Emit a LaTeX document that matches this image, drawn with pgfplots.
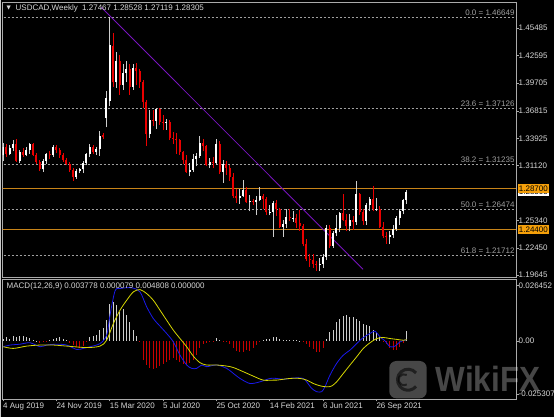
\documentclass[border=0pt]{standalone}
\usepackage{pgfplots}
\pgfplotsset{compat=1.18}
\usepackage{pgfplotstable}
\usepackage{fontspec}
\setmainfont{Liberation Sans}
\newfontfamily\dejavu{DejaVu Sans}
\definecolor{framec}{RGB}{170,170,170}
\definecolor{lgray}{RGB}{200,200,200}
\definecolor{txt}{RGB}{215,215,215}
\definecolor{bullc}{RGB}{255,255,255}
\definecolor{bullw}{RGB}{205,205,205}
\definecolor{bearc}{RGB}{235,0,0}
\definecolor{fibc}{RGB}{160,160,160}
\definecolor{orangel}{RGB}{200,132,25}
\definecolor{orangeb}{RGB}{245,160,10}
\definecolor{purp}{RGB}{120,20,190}
\definecolor{macdblue}{RGB}{25,25,235}
\definecolor{macdyel}{RGB}{215,215,0}
\definecolor{histw}{RGB}{205,205,205}
\definecolor{histr}{RGB}{200,0,0}

\pgfplotstableread{
w O H L C
0 1.3215 1.3345 1.3160 1.3300
2 1.3235 1.3320 1.3215 1.3290
3 1.3290 1.3380 1.3260 1.3330
5 1.3160 1.3270 1.3135 1.3250
7 1.3220 1.3300 1.3205 1.3270
8 1.3270 1.3350 1.3230 1.3330
12 1.3070 1.3180 1.3042 1.3160
13 1.3160 1.3240 1.3130 1.3230
15 1.3215 1.3320 1.3200 1.3300
22 1.2990 1.3075 1.2970 1.3050
23 1.3050 1.3085 1.3030 1.3070
24 1.3070 1.3160 1.3030 1.3140
25 1.3140 1.3245 1.3110 1.3230
26 1.3230 1.3330 1.3200 1.3305
28 1.3250 1.3300 1.3220 1.3280
29 1.3280 1.3467 1.3210 1.3420
31 1.3610 1.3890 1.3510 1.3820
32 1.3780 1.4667 1.3730 1.4370
34 1.3980 1.4300 1.3920 1.4200
36 1.3950 1.4170 1.3900 1.4080
37 1.4080 1.4200 1.3980 1.4120
39 1.3930 1.4175 1.3900 1.4130
44 1.3440 1.3690 1.3400 1.3590
46 1.3580 1.3715 1.3490 1.3700
49 1.3560 1.3600 1.3485 1.3565
56 1.3045 1.3140 1.2995 1.3060
57 1.3060 1.3230 1.3040 1.3180
58 1.3180 1.3240 1.3100 1.3210
59 1.3210 1.3420 1.3190 1.3350
62 1.3120 1.3190 1.3080 1.3150
64 1.3140 1.3390 1.3120 1.3330
66 1.3040 1.3170 1.2930 1.3130
71 1.2765 1.2860 1.2710 1.2790
72 1.2790 1.2960 1.2780 1.2855
74 1.2725 1.2800 1.2630 1.2740
76 1.2725 1.2790 1.2590 1.2745
77 1.2745 1.2880 1.2740 1.2790
80 1.2620 1.2700 1.2590 1.2625
81 1.2625 1.2740 1.2365 1.2720
84 1.2470 1.2540 1.2365 1.2500
85 1.2500 1.2650 1.2460 1.2575
87 1.2560 1.2630 1.2520 1.2565
95 1.2075 1.2140 1.2006 1.2080
96 1.2080 1.2180 1.2040 1.2155
97 1.2155 1.2485 1.2120 1.2460
99 1.2270 1.2420 1.2250 1.2400
100 1.2400 1.2590 1.2370 1.2455
101 1.2455 1.2620 1.2410 1.2610
104 1.2480 1.2600 1.2420 1.2545
106 1.2515 1.2949 1.2490 1.2810
109 1.2530 1.2720 1.2490 1.2700
110 1.2700 1.2780 1.2630 1.2760
112 1.2650 1.2775 1.2630 1.2660
116 1.2365 1.2420 1.2288 1.2385
117 1.2385 1.2490 1.2350 1.2450
118 1.2450 1.2580 1.2430 1.2560
119 1.2560 1.2650 1.2490 1.2635
120 1.2635 1.2760 1.2600 1.2747
121 1.27467 1.28528 1.27119 1.28305
}\bull

\pgfplotstableread{
w O H L C
1 1.3300 1.3330 1.3200 1.3235
4 1.3330 1.3384 1.3150 1.3160
6 1.3250 1.3290 1.3200 1.3220
9 1.3330 1.3345 1.3210 1.3220
10 1.3220 1.3240 1.3130 1.3150
11 1.3150 1.3165 1.3050 1.3070
14 1.3230 1.3260 1.3180 1.3215
16 1.3300 1.3325 1.3240 1.3270
17 1.3270 1.3290 1.3190 1.3220
18 1.3220 1.3240 1.3150 1.3165
19 1.3165 1.3185 1.3110 1.3130
20 1.3130 1.3150 1.3040 1.3060
21 1.3060 1.3080 1.2952 1.2990
27 1.3305 1.3320 1.3230 1.3250
30 1.3425 1.3455 1.3390 1.3410
33 1.4360 1.4500 1.3930 1.3980
35 1.4200 1.4265 1.3850 1.3950
38 1.4120 1.4170 1.3850 1.3930
40 1.4130 1.4180 1.3950 1.4100
41 1.4100 1.4120 1.3920 1.3985
42 1.3985 1.4000 1.3715 1.3775
43 1.3775 1.3790 1.3315 1.3440
45 1.3590 1.3690 1.3520 1.3580
47 1.3700 1.3710 1.3535 1.3570
48 1.3570 1.3640 1.3485 1.3560
50 1.3565 1.3590 1.3380 1.3400
51 1.3400 1.3460 1.3340 1.3390
52 1.3390 1.3450 1.3230 1.3375
53 1.3375 1.3385 1.3220 1.3250
54 1.3250 1.3265 1.3130 1.3165
55 1.3165 1.3220 1.3030 1.3045
60 1.3350 1.3390 1.3260 1.3310
61 1.3310 1.3320 1.3100 1.3120
63 1.3150 1.3200 1.3080 1.3140
65 1.3330 1.3370 1.3020 1.3040
67 1.3130 1.3160 1.3010 1.3085
68 1.3085 1.3120 1.2950 1.2990
69 1.2990 1.3030 1.2770 1.2795
70 1.2795 1.2860 1.2720 1.2765
73 1.2855 1.2880 1.2720 1.2725
75 1.2740 1.2760 1.2700 1.2725
78 1.2790 1.2810 1.2660 1.2760
79 1.2760 1.2780 1.2590 1.2620
82 1.2720 1.2750 1.2585 1.2660
83 1.2660 1.2670 1.2460 1.2470
86 1.2575 1.2650 1.2530 1.2560
88 1.2565 1.2600 1.2460 1.2510
89 1.2510 1.2640 1.2425 1.2480
90 1.2480 1.2495 1.2265 1.2285
91 1.2285 1.2340 1.2115 1.2135
92 1.2135 1.2180 1.2050 1.2125
93 1.2125 1.2180 1.2040 1.2080
94 1.2080 1.2110 1.2010 1.2075
98 1.2460 1.2490 1.2250 1.2270
102 1.2610 1.2810 1.2530 1.2545
103 1.2545 1.2600 1.2420 1.2480
105 1.2545 1.2580 1.2440 1.2515
107 1.2810 1.2820 1.2590 1.2620
108 1.2620 1.2660 1.2490 1.2530
111 1.2760 1.2896 1.2630 1.2650
113 1.2660 1.2685 1.2460 1.2470
114 1.2470 1.2520 1.2350 1.2370
115 1.2370 1.2410 1.2290 1.2365
}\bear

\pgfplotstableread{
w v
0 0.0011
1 0.0016
2 0.0011
3 0.0022
4 0.0019
5 0.0022
6 0.0022
7 0.0019
8 0.0013
9 0.0006
10 0.0001
11 -0.0009
12 -0.0006
13 -0.0003
14 0.0003
15 0.0009
16 0.0014
17 0.0016
18 0.0009
19 0.0003
20 -0.0009
21 -0.0021
22 -0.0028
23 -0.0032
24 -0.0025
25 -0.0006
26 0.0016
27 0.0022
28 0.0027
29 0.0051
30 0.0059
31 0.0098
32 0.0177
33 0.0185
34 0.0169
35 0.0138
36 0.0154
37 0.0122
38 0.0090
39 0.0051
40 0.0022
41 -0.0002
42 -0.0092
43 -0.0116
44 -0.0127
45 -0.0136
46 -0.0127
47 -0.0120
48 -0.0111
49 -0.0100
50 -0.0092
51 -0.0084
52 -0.0092
53 -0.0100
54 -0.0108
55 -0.0116
56 -0.0104
57 -0.0089
58 -0.0068
59 -0.0036
60 -0.0016
61 -0.0009
62 -0.0006
63 -0.0003
64 0.0014
65 0.0003
66 -0.0003
67 -0.0006
68 -0.0016
69 -0.0036
70 -0.0049
71 -0.0052
72 -0.0052
73 -0.0044
74 -0.0049
75 -0.0036
76 -0.0021
77 -0.0005
78 0.0006
79 0.0009
80 0.0011
81 0.0016
82 0.0016
83 0.0011
84 0.0006
85 0.0003
86 0.0003
87 0.0003
88 0.0002
89 0.0001
90 -0.0006
91 -0.0016
92 -0.0028
93 -0.0041
94 -0.0052
95 -0.0052
96 -0.0036
97 0.0011
98 0.0043
99 0.0051
100 0.0090
101 0.0106
102 0.0117
103 0.0122
104 0.0114
105 0.0114
106 0.0106
107 0.0095
108 0.0082
109 0.0074
110 0.0070
111 0.0054
112 0.0035
113 0.0016
114 -0.0002
115 -0.0016
116 -0.0032
117 -0.0044
118 -0.0044
119 -0.0028
120 -0.0009
121 0.0047
}\hist

\pgfplotstableread{
w v
0.1 -0.0028
2.1 -0.0020
5.1 -0.0016
8.1 -0.0009
11.1 -0.0028
13.1 -0.0020
16.1 -0.0016
19.1 -0.0020
22.1 -0.0041
24.1 -0.0036
26.1 -0.0028
29.1 -0.0013
31.1 0.0027
32.1 0.0122
33.6 0.0237
35.1 0.0249
38.6 0.0253
41.1 0.0233
43.1 0.0162
45.1 0.0106
47.1 0.0070
49.1 0.0035
51.1 -0.0005
53.1 -0.0068
55.1 -0.0115
56.6 -0.0131
58.1 -0.0131
59.6 -0.0115
61.1 -0.0123
64.1 -0.0115
67.1 -0.0131
69.1 -0.0155
71.1 -0.0179
74.1 -0.0203
77.1 -0.0195
80.1 -0.0179
82.1 -0.0179
84.1 -0.0183
86.1 -0.0179
88.1 -0.0176
90.1 -0.0179
91.1 -0.0195
92.6 -0.0226
94.1 -0.0242
95.6 -0.0242
96.6 -0.0218
98.1 -0.0163
100.1 -0.0107
102.1 -0.0068
104.1 -0.0044
106.1 -0.0013
108.1 0.0016
110.1 0.0035
111.6 0.0046
113.1 0.0019
114.6 0.0000
116.1 -0.0028
117.6 -0.0025
119.1 -0.0005
121.1 0.0006
}\macdline

\pgfplotstableread{
w v
0.1 -0.0028
3.1 -0.0036
7.1 -0.0025
11.1 -0.0020
15.1 -0.0020
19.1 -0.0025
25.1 -0.0032
29.1 -0.0025
31.1 0.0003
33.1 0.0082
35.1 0.0146
37.1 0.0193
39.1 0.0233
41.1 0.0244
43.1 0.0225
45.1 0.0193
47.1 0.0146
49.1 0.0098
51.1 0.0051
53.1 0.0011
55.1 -0.0028
57.1 -0.0073
59.1 -0.0104
61.1 -0.0115
64.1 -0.0115
67.1 -0.0120
69.1 -0.0127
72.1 -0.0147
75.1 -0.0168
78.1 -0.0187
81.1 -0.0187
82.1 -0.0187
86.1 -0.0179
89.1 -0.0179
91.1 -0.0187
93.1 -0.0203
95.1 -0.0214
97.1 -0.0219
98.6 -0.0215
100.1 -0.0195
102.1 -0.0155
104.1 -0.0115
106.1 -0.0076
108.1 -0.0036
110.1 -0.0009
112.1 0.0011
114.1 0.0016
116.1 0.0011
118.1 0.0007
120.1 0.0003
121.1 0.0006
}\sigline

\begin{document}
\begin{tikzpicture}[x=1pt,y=1pt]
\fill[black] (0,0) rectangle (554,417);
\fill[lgray] (0,0) rectangle (1.2,417);

% ---------------- main price panel ----------------
\begin{axis}[
  at={(2.5pt,140pt)}, anchor=south west,
  scale only axis, width=513.5pt, height=275pt,
  xmin=-0.15, xmax=153.9, ymin=1.19436, ymax=1.48205,
  axis line style={framec, line width=0.7pt},
  xtick=\empty,
  scaled y ticks=false, scaled x ticks=false,
  ytick={1.19645,1.22450,1.25340,1.31120,1.33925,1.36815,1.39705,1.42595,1.45485},
  yticklabels={1.19645,1.22450,1.25340,1.31120,1.33925,1.36815,1.39705,1.42595,1.45485},
  ytick pos=right, yticklabel pos=right,
  tick align=outside, major tick length=2.5pt,
  tick style={framec, line width=0.6pt},
  yticklabel style={font=\fontsize{8}{9}\selectfont, text=txt, anchor=west, inner sep=0pt},
  clip mode=individual,
]
% fibonacci levels
\addplot[fibc, line width=0.6pt, dash pattern=on 2pt off 2pt, forget plot] coordinates {(-1,1.46649) (154,1.46649)};
\addplot[fibc, line width=0.6pt, dash pattern=on 2pt off 2pt, forget plot] coordinates {(-1,1.37126) (154,1.37126)};
\addplot[fibc, line width=0.6pt, dash pattern=on 2pt off 2pt, forget plot] coordinates {(-1,1.31235) (154,1.31235)};
\addplot[fibc, line width=0.6pt, dash pattern=on 2pt off 2pt, forget plot] coordinates {(-1,1.26474) (154,1.26474)};
\addplot[fibc, line width=0.6pt, dash pattern=on 2pt off 2pt, forget plot] coordinates {(-1,1.21712) (154,1.21712)};
% horizontal levels
\addplot[orangel, line width=0.8pt, forget plot] coordinates {(-1,1.28700) (154,1.28700)};
\addplot[orangel, line width=0.8pt, forget plot] coordinates {(-1,1.24400) (154,1.24400)};
% trend line
\addplot[purp, line width=0.8pt, forget plot] coordinates {(29.5,1.4765) (108,1.2024)};
% candles: wicks
\addplot[draw=none, mark=none, forget plot, error bars/.cd, y dir=plus, y explicit, error mark=none,
  error bar style={draw=bullw, line width=0.8pt, line cap=butt}]
  table[x=w, y=L, y error plus expr=\thisrow{H}-\thisrow{L}] {\bull};
\addplot[draw=none, mark=none, forget plot, error bars/.cd, y dir=plus, y explicit, error mark=none,
  error bar style={draw=bearc, line width=0.8pt, line cap=butt}]
  table[x=w, y=L, y error plus expr=\thisrow{H}-\thisrow{L}] {\bear};
% candles: bodies
\addplot[draw=none, mark=none, forget plot, error bars/.cd, y dir=plus, y explicit, error mark=none,
  error bar style={draw=bullc, line width=2.3pt, line cap=butt}]
  table[x=w, y=O, y error plus expr=\thisrow{C}-\thisrow{O}] {\bull};
\addplot[draw=none, mark=none, forget plot, error bars/.cd, y dir=plus, y explicit, error mark=none,
  error bar style={draw=bearc, line width=2.3pt, line cap=butt}]
  table[x=w, y=C, y error plus expr=\thisrow{O}-\thisrow{C}] {\bear};
% fib labels
\begin{scope}[every node/.style={anchor=south east, inner sep=0pt, text=fibc, font=\fontsize{8}{9}\selectfont, yshift=1.5pt}]
\node at (axis cs:153.5,1.46649) {0.0 = 1.46649};
\node at (axis cs:153.5,1.37126) {23.6 = 1.37126};
\node at (axis cs:153.5,1.31235) {38.2 = 1.31235};
\node at (axis cs:153.5,1.26474) {50.0 = 1.26474};
\node at (axis cs:153.5,1.21712) {61.8 = 1.21712};
\end{scope}
% price boxes on right scale
\node[fill=white, text=black, anchor=west, inner xsep=1.2pt, inner ysep=0pt, minimum height=8.5pt, font=\fontsize{8}{9}\selectfont, xshift=1.5pt] at (axis cs:153.9,1.28305) {1.28305};
\node[fill=orangeb, text=black, anchor=west, inner xsep=1.2pt, inner ysep=0pt, minimum height=9pt, font=\fontsize{8}{9}\selectfont, xshift=1.5pt] at (axis cs:153.9,1.28700) {1.28700};
\node[fill=orangeb, text=black, anchor=west, inner xsep=1.2pt, inner ysep=0pt, minimum height=9pt, font=\fontsize{8}{9}\selectfont, xshift=1.5pt] at (axis cs:153.9,1.24400) {1.24400};
\end{axis}

% ---------------- MACD panel ----------------
\begin{axis}[
  at={(2.5pt,18pt)}, anchor=south west,
  scale only axis, width=513.5pt, height=119.7pt,
  xmin=-0.15, xmax=153.9, ymin=-0.02768, ymax=0.02930,
  axis line style={framec, line width=0.7pt},
  scaled y ticks=false, scaled x ticks=false,
  xtick={0,16,32,48,64,80,96,112},
  xticklabels={4 Aug 2019,24 Nov 2019,15 Mar 2020,5 Jul 2020,25 Oct 2020,14 Feb 2021,6 Jun 2021,26 Sep 2021},
  xtick pos=bottom, xticklabel pos=bottom,
  xticklabel style={font=\fontsize{8}{9}\selectfont, text=txt, anchor=north west, inner sep=0pt, yshift=-1.5pt},
  ytick={-0.025307,0,0.026452},
  yticklabels={-0.025307,0.00,0.026452},
  ytick pos=right, yticklabel pos=right,
  tick align=outside, major tick length=2.5pt,
  tick style={framec, line width=0.6pt},
  yticklabel style={font=\fontsize{8}{9}\selectfont, text=txt, anchor=west, inner sep=0pt},
  clip mode=individual,
]
\addplot[ycomb, histw, line width=1pt, mark=none, restrict y to domain=0:1, forget plot] table[x=w, y=v] {\hist};
\addplot[ycomb, histr, line width=1pt, mark=none, restrict y to domain=-1:0, forget plot] table[x=w, y=v] {\hist};
\addplot[macdblue, line width=0.8pt, smooth, tension=0.5, mark=none, forget plot] table[x=w, y=v] {\macdline};
\addplot[macdyel, line width=0.8pt, smooth, tension=0.5, mark=none, forget plot] table[x=w, y=v] {\sigline};
\end{axis}

% title texts
\node[anchor=west, inner sep=0pt, text=txt, font=\dejavu\fontsize{5.5}{6}\selectfont] at (6.5,408.5) {▼};
\node[anchor=west, inner sep=0pt, text=txt, font=\fontsize{8}{9}\selectfont] at (15.5,408.5) {USDCAD,Weekly\ \ 1.27467 1.28528 1.27119 1.28305};
\node[anchor=west, inner sep=0pt, text=txt, font=\fontsize{8}{9}\selectfont] at (6.5,131) {MACD(12,26,9) 0.003778 0.000079 0.004808 0.000000};

% watermark
\fill[white, opacity=0.28, rounded corners=7pt] (389.3,18.7) rectangle (426.7,56);
\draw[black, opacity=0.55, line width=3pt] (408,37.3) ++(40:10.5) arc (40:320:10.5);
\draw[black, opacity=0.55, line width=2pt] (404,37.3) ++(60:5.5) arc (60:300:5.5);
\node[anchor=west, inner sep=0pt, text=white, text opacity=0.28, font=\bfseries\fontsize{35}{35}\selectfont, xscale=0.9] at (435.5,38.2) {WikiFX};

\pgfresetboundingbox
\useasboundingbox (0,0) rectangle (554,417);
\end{tikzpicture}
\end{document}
